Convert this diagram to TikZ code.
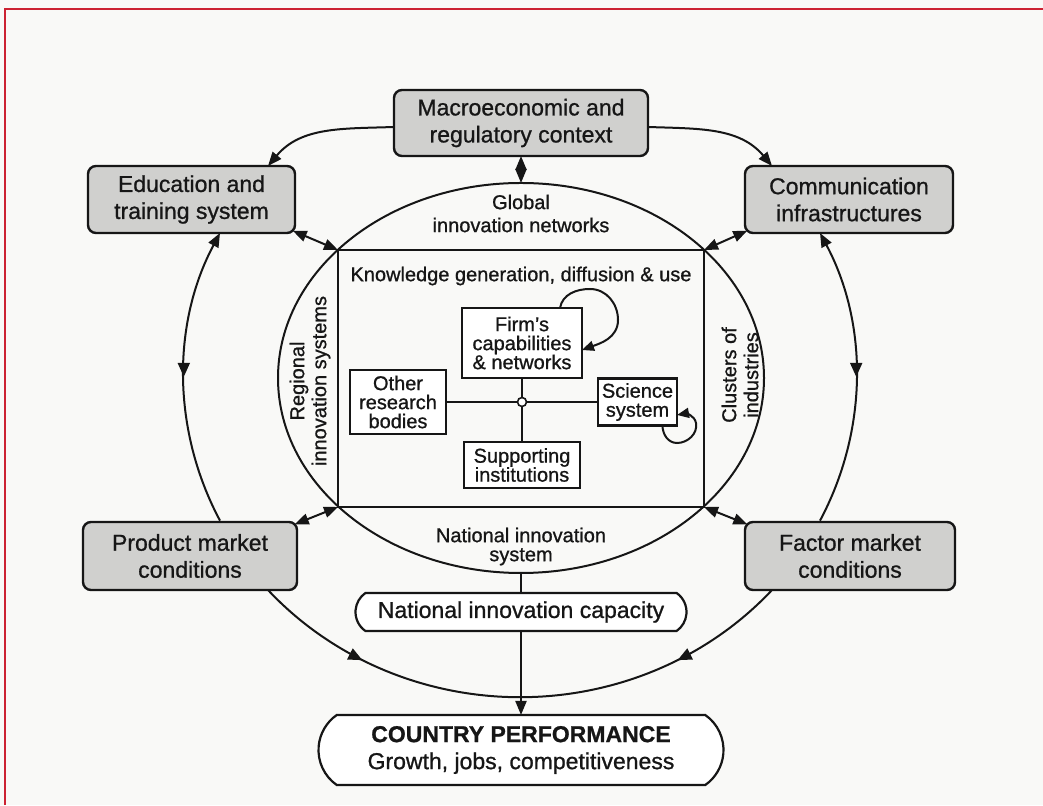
\documentclass[tikz,border=0pt]{standalone}
\usepackage{fontspec}
\setmainfont{Liberation Sans}[FakeBold=0.9]
\usetikzlibrary{arrows.meta,decorations.markings,shapes.geometric,shapes.misc}
\definecolor{boxgray}{RGB}{208,208,206}
\definecolor{framered}{RGB}{204,34,50}
\definecolor{ink}{RGB}{22,22,22}
\definecolor{paper}{RGB}{249,249,247}
\begin{document}
\begin{tikzpicture}[x=1pt,y=1pt,
  conn/.style={draw=ink, line width=2pt},
  tip/.style={-{Triangle[length=14pt,width=11pt]}},
  smalltip/.style={-{Triangle[length=12pt,width=10pt]}},
  dbl/.style={{Triangle[length=14pt,width=11pt]}-{Triangle[length=14pt,width=11pt]}},
  midarrow/.style={postaction={decorate}, decoration={markings,
      mark=at position #1 with {\arrow{Triangle[length=14pt,width=12pt]}}}},
  outerbox/.style={draw=ink, line width=2.4pt, fill=boxgray, rounded corners=8pt,
      align=center, inner sep=0pt, outer sep=0pt, text=ink,
      font=\fontsize{23}{27}\selectfont},
  innerbox/.style={draw=ink, line width=2.2pt, fill=white, align=center,
      inner sep=0pt, outer sep=0pt, text=ink, font=\fontsize{20}{19}\selectfont},
  pill/.style={draw=ink, line width=2.2pt, fill=white, rounded rectangle,
      rounded rectangle arc length=110, align=center, inner sep=0pt, outer sep=0pt,
      text=ink, font=\fontsize{23}{27}\selectfont},
  txt/.style={align=center, inner sep=0pt, text=ink, font=\fontsize{20}{22}\selectfont},
]
\useasboundingbox (0,0) rectangle (1043,805);
\fill[paper] (0,0) rectangle (1043,805);
\draw[framered, line width=2.5pt] (5,0) -- (5,796) -- (1043,796);

% national innovation system: ellipse and knowledge rectangle
\node[draw=ink, ellipse, line width=2pt, minimum width=486pt, minimum height=390pt,
      inner sep=0pt, outer sep=0pt] (nis) at (521,427) {};
\node[draw=ink, rectangle, line width=2pt, minimum width=366pt, minimum height=257pt,
      inner sep=0pt, outer sep=0pt] (kgd) at (521,426.5) {};

% surrounding boxes
\node[outerbox, minimum width=254pt, minimum height=66pt] (macro) at (521,682)
  {Macroeconomic and\\regulatory context};
\node[outerbox, minimum width=207pt, minimum height=67pt] (edu) at (191.5,605.5)
  {Education and\\training system};
\node[outerbox, minimum width=208pt, minimum height=67pt] (comm) at (849,605.5)
  {Communication\\infrastructures};
\node[outerbox, minimum width=214pt, minimum height=68pt] (prod) at (190,249)
  {Product market\\conditions};
\node[outerbox, minimum width=210pt, minimum height=68pt] (factor) at (850,249)
  {Factor market\\conditions};
\node[pill, minimum width=331pt, minimum height=38pt] (nic) at (521,193)
  {National innovation capacity};
\node[pill, minimum width=405pt, minimum height=70pt] (country) at (521,55)
  {\textbf{COUNTRY PERFORMANCE}\\Growth, jobs, competitiveness};

% labels of the rings
\node[txt, font=\fontsize{20}{23}\selectfont] (glob) at (521,591.5) {Global\\innovation networks};
\node[txt] (kgdtitle) at (521,529) {Knowledge generation, diffusion \& use};
\node[txt, font=\fontsize{20}{19}\selectfont] (nisl) at (521,258.5) {National innovation\\system};
\node[txt, rotate=90] (reg) at (310,424) {Regional\\innovation systems};
\node[txt, rotate=90] (clu) at (740,430) {Clusters of\\industries};

% actors inside the knowledge rectangle
\node[innerbox, minimum width=120pt, minimum height=70pt] (firm) at (522,462)
  {Firm's\\capabilities\\\& networks};
\node[innerbox, minimum width=96pt, minimum height=64pt] (other) at (398,403)
  {Other\\research\\bodies};
\node[innerbox, minimum width=79pt, minimum height=47pt] (sci) at (637.5,403)
  {Science\\system};
\node[innerbox, minimum width=116pt, minimum height=46pt] (supp) at (522,340)
  {Supporting\\institutions};
\node[circle, draw=ink, fill=white, line width=1.6pt, minimum size=9pt,
      inner sep=0pt, outer sep=0pt] (hub) at (522,403) {};

\draw[conn] (other.east) -- (hub.west);
\draw[conn] (hub.east) -- (sci.west);
\draw[conn] (firm.south) -- (hub.north);
\draw[conn] (hub.south) -- (supp.north);

% self loops
\draw[conn, smalltip] ([xshift=38pt]firm.north) to[out=80,in=180] (590,516)
  to[out=0,in=90] (618,485) to[out=-90,in=20] ([yshift=-7pt]firm.east);
\draw[conn, smalltip] ([xshift=25pt]sci.south) to[out=-90,in=180] (677,362)
  to[out=0,in=-80] (696,382) to[out=100,in=10] ([yshift=-13pt]sci.east);

% outer ring
\draw[conn, tip] ([yshift=-4pt]macro.west) to[out=182,in=50] ([xshift=76.5pt]edu.north);
\draw[conn, tip] ([yshift=-4pt]macro.east) to[out=-2,in=130] ([xshift=-77pt]comm.north);
\draw[conn, {Triangle[length=14pt,width=11pt]}-, midarrow=0.5]
  ([xshift=28.5pt]edu.south) arc[start angle=153.2, end angle=206.8,
  x radius=337, y radius=319];
\draw[conn, {Triangle[length=14pt,width=11pt]}-, midarrow=0.5]
  ([xshift=-29pt]comm.south) arc[start angle=26.8, end angle=-26.8,
  x radius=337, y radius=319];
\draw[conn, midarrow=0.42]
  ([xshift=78pt]prod.south) arc[start angle=221.6, end angle=270,
  x radius=337, y radius=319];
\draw[conn, midarrow=0.42]
  ([xshift=-78pt]factor.south) arc[start angle=318.4, end angle=270,
  x radius=337, y radius=319];

% links between the boxes and the innovation system
\draw[conn, dbl] (macro.south) -- (nis.north);
\draw[conn, dbl] (kgd.north west) -- ([shift={(-2.3pt,2.3pt)}]edu.south east);
\draw[conn, dbl] (kgd.north east) -- ([shift={(2.3pt,2.3pt)}]comm.south west);
\draw[conn, dbl] (kgd.south west) -- ([shift={(-2.3pt,-2.3pt)}]prod.north east);
\draw[conn, dbl] (kgd.south east) -- ([shift={(2.3pt,-2.3pt)}]factor.north west);
\draw[conn] (nis.south) -- (nic.north);
\draw[conn, tip] (nic.south) -- (country.north);
\end{tikzpicture}
\end{document}
